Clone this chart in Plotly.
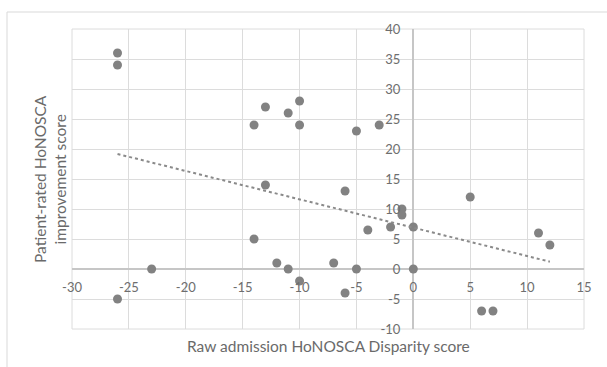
import numpy as np
import plotly.graph_objects as go

# Data
disparity = [-26, -26, -26, -23, -14, -14, -13, -13, -12, -11, -11, -10, -10, -10,
             -7, -6, -6, -5, -5, -4, -3, -2, -1, -1, 0, 0, 5, 6, 7, 11, 12]
improvement = [36, 34, -5, 0, 24, 5, 27, 14, 1, 26, 0, 28, 24, -2,
               1, 13, -4, 23, 0, 6.5, 24, 7, 10, 9, 7, 0, 12, -7, -7, 6, 4]

x_ticks = [-30, -25, -20, -15, -10, -5, 0, 5, 10, 15]
y_ticks = [-10, -5, 0, 5, 10, 15, 20, 25, 30, 35, 40]

x_title = "Raw admission HoNOSCA Disparity score"
y_title = "Patient-rated HoNOSCA<br>improvement score"

# Linear trendline (least squares)
slope, intercept = np.polyfit(disparity, improvement, 1)
tx = [min(disparity), max(disparity)]
ty = [slope * v + intercept for v in tx]

FONT = "Lato, Carlito, Calibri, Open Sans, sans-serif"
GRID = "#dcdcdc"
TICK_COLOR = "#6e6e6e"

fig = go.Figure()
fig.add_trace(go.Scatter(
    x=disparity, y=improvement, mode="markers",
    marker=dict(size=9, color="#828282"),
    showlegend=False, hoverinfo="skip"))
fig.add_trace(go.Scatter(
    x=tx, y=ty, mode="lines",
    line=dict(color="#8a8a8a", width=2, dash="dot"),
    showlegend=False, hoverinfo="skip"))

fig.update_layout(
    width=607, height=367,
    margin=dict(l=72, r=23, t=29, b=38, autoexpand=False),
    paper_bgcolor="white", plot_bgcolor="rgba(0,0,0,0)",
    font=dict(family=FONT, color=TICK_COLOR, size=12),
    xaxis=dict(
        range=[-30, 15], tickvals=x_ticks, ticktext=[str(v) for v in x_ticks],
        showgrid=True, gridcolor=GRID, gridwidth=1,
        zeroline=True, zerolinecolor="#c6c6c6", zerolinewidth=1.5,
        showline=False, anchor="free", position=0.2, automargin=False,
        ticks="", ticklabelstandoff=9,
        tickfont=dict(family=FONT, size=13, color=TICK_COLOR)),
    yaxis=dict(
        range=[-10, 40], tickvals=y_ticks, ticktext=[str(v) for v in y_ticks],
        showgrid=True, gridcolor=GRID, gridwidth=1,
        zeroline=True, zerolinecolor="#c6c6c6", zerolinewidth=1.5,
        showline=False, anchor="free", position=30 / 45, automargin=False,
        ticks="", ticklabelstandoff=13,
        tickfont=dict(family=FONT, size=13, color=TICK_COLOR)),
    shapes=[
        dict(type="rect", xref="paper", yref="paper",
             x0=0, x1=1, y0=0, y1=1,
             line=dict(color=GRID, width=1), layer="below"),
        dict(type="rect", xref="paper", yref="paper",
             x0=(7 - 72) / 512, x1=1.2, y0=-0.3, y1=1 + (29 - 12) / 300,
             line=dict(color="#d9d9d9", width=1), fillcolor="rgba(0,0,0,0)",
             layer="below"),
    ],
    annotations=[
        dict(text=x_title, xref="paper", yref="paper", x=0.5,
             y=(329 - 346) / 300, xanchor="center", yanchor="middle",
             showarrow=False, font=dict(family=FONT, size=15.5, color="#6a6a6a")),
        dict(text=y_title, xref="paper", yref="paper", x=(50 - 72) / 512,
             y=0.5, xanchor="center", yanchor="middle", textangle=-90,
             showarrow=False, font=dict(family=FONT, size=15.5, color="#6a6a6a")),
    ],
)

fig.write_html("out.html", config={"displayModeBar": False},
               post_script="document.body.style.margin='0';document.body.style.overflow='hidden';")
